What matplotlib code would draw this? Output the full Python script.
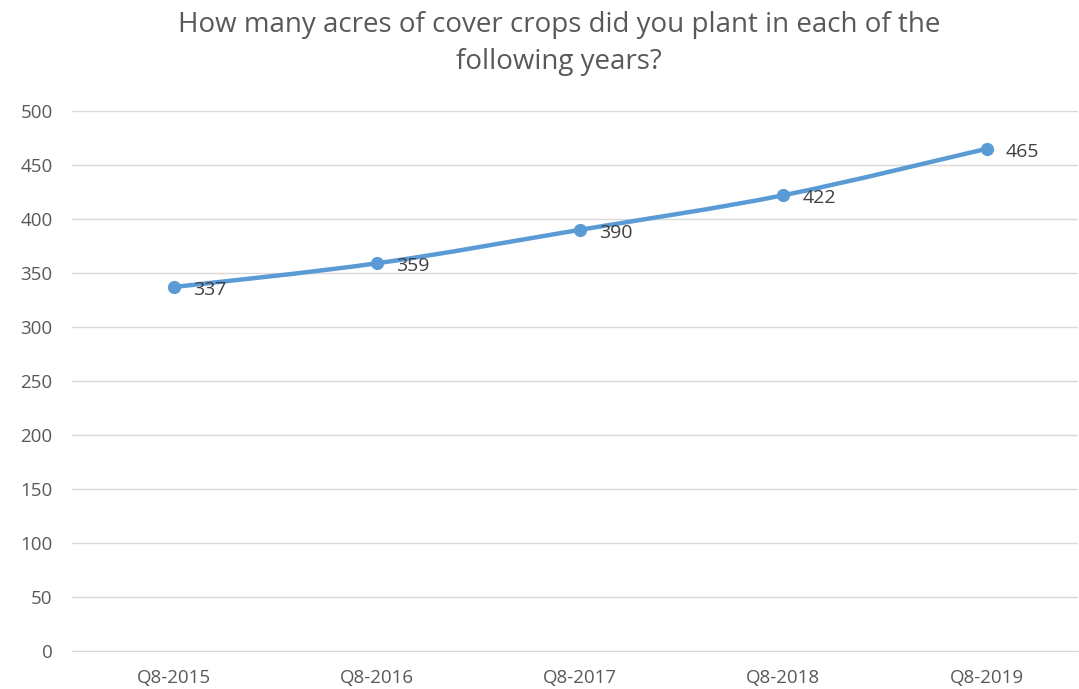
import numpy as np
import matplotlib
matplotlib.use('Agg')
import matplotlib.pyplot as plt
from matplotlib.path import Path
from matplotlib.patches import PathPatch

# data
categories = ['Q8-2015', 'Q8-2016', 'Q8-2017', 'Q8-2018', 'Q8-2019']
acres = [337, 359, 390, 422, 465]
y_ticks = list(range(0, 501, 50))

plt.rcParams['font.family'] = ['Open Sans', 'DejaVu Sans']
blue = '#5B9BD5'
grid_col = '#D9D9D9'

fig = plt.figure(figsize=(10.79, 6.89), dpi=100)
ax = fig.add_axes([72/1079, 1 - 651/689, (1078 - 72)/1079, (651 - 111)/689])

x = np.arange(len(categories))
y = np.array(acres, dtype=float)

# smoothed line (catmull-rom style bezier, like office "smoothed line")
verts = [(x[0], y[0])]
codes = [Path.MOVETO]
n = len(x)
for i in range(n - 1):
    p0 = (x[i - 1], y[i - 1]) if i > 0 else (x[i], y[i])
    p1 = (x[i], y[i])
    p2 = (x[i + 1], y[i + 1])
    p3 = (x[i + 2], y[i + 2]) if i + 2 < n else p2
    c1 = (p1[0] + (p2[0] - p0[0]) / 6, p1[1] + (p2[1] - p0[1]) / 6)
    c2 = (p2[0] - (p3[0] - p1[0]) / 6, p2[1] - (p3[1] - p1[1]) / 6)
    verts += [c1, c2, p2]
    codes += [Path.CURVE4] * 3
ax.add_patch(PathPatch(Path(verts, codes), facecolor='none', edgecolor=blue,
                       lw=3.2, capstyle='round', zorder=3))
ax.plot(x, y, 'o', color=blue, markersize=8.5, zorder=4)

for xi, yi in zip(x, acres):
    ax.annotate(str(yi), (xi, yi), xytext=(14, -2), textcoords='offset points',
                ha='left', va='center', fontsize=14, color='#404040', zorder=5)

ax.set_xlim(-0.5, 4.5 - 0.05)
ax.set_ylim(0, 500)
ax.set_yticks(y_ticks)
ax.set_xticks(x)
ax.set_xticklabels(categories)
ax.yaxis.grid(True, color=grid_col, lw=1)
ax.set_axisbelow(True)
for s in ['top', 'right', 'left']:
    ax.spines[s].set_visible(False)
ax.spines['bottom'].set_color(grid_col)
ax.tick_params(axis='both', length=0, labelsize=13.5, labelcolor='#595959')
ax.tick_params(axis='y', pad=14)
ax.tick_params(axis='x', pad=13)

fig.text(0.518, 0.937, 'How many acres of cover crops did you plant in each of the\nfollowing years?',
         ha='center', va='center', fontsize=20, color='#595959', linespacing=1.45)

fig.savefig('out.png', dpi=100)
